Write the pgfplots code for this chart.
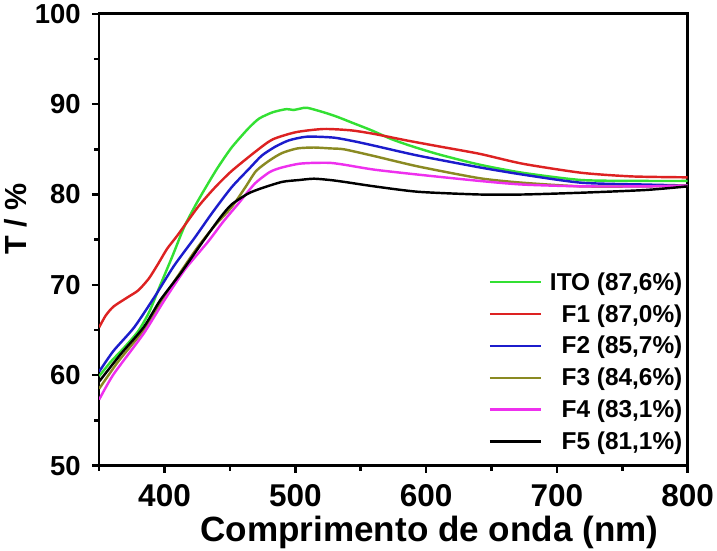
\documentclass[border=0pt]{standalone}
\usepackage{fontspec}
\setmainfont{Liberation Sans}
\usepackage{pgfplots}
\pgfplotsset{compat=1.18}
\definecolor{cITO}{HTML}{33E033}
\definecolor{cFa}{HTML}{DD2222}
\definecolor{cFb}{HTML}{1C1CCC}
\definecolor{cFc}{HTML}{8A8A22}
\definecolor{cFd}{HTML}{EE30EE}
\definecolor{cFe}{HTML}{000000}

\begin{document}
\begin{tikzpicture}
\begin{axis}[
  scale only axis,
  width=579pt, height=444.5pt,
  xmin=350, xmax=800,
  ymin=50, ymax=100,
  xtick={400,500,600,700,800},
  minor xtick={350,450,550,650,750},
  ytick={50,60,70,80,90,100},
  minor ytick={55,65,75,85,95},
  xtick pos=lower, ytick pos=left,
  tick align=outside,
  major tick length=7pt, minor tick length=5pt,
  axis line style={line width=2.6pt},
  major tick style={line width=2.4pt, black},
  minor tick style={line width=2.4pt, black},
  /pgf/number format/assume math mode=true,
  xticklabel style={font=\bfseries\fontsize{31}{31}\selectfont, inner sep=0pt},
  yticklabel style={font=\bfseries\fontsize{27}{27}\selectfont, inner sep=0pt},
  xticklabel shift=11pt, yticklabel shift=11pt,
  every axis x label/.style={at={(axis description cs:0.5613,0)}, anchor=north,
    yshift=-49pt, inner sep=0pt, font=\bfseries\fontsize{34.5}{36}\selectfont},
  every axis y label/.style={at={(axis description cs:-0.1226,0.5467)}, rotate=90,
    anchor=south, inner sep=0pt, font=\bfseries\fontsize{30}{32}\selectfont},
  xlabel={Comprimento de onda (nm)},
  ylabel={T / \%},
  legend style={at={(axis description cs:1,0)}, anchor=south east,
    xshift=-3pt, yshift=12pt, draw=none, fill=none,
    font=\bfseries\fontsize{24}{26}\selectfont,
    row sep=8.5pt, column sep=6pt, inner sep=0pt},
  legend cell align=right,
  legend image code/.code={\draw[#1] (0pt,0pt) -- (50pt,0pt);},
  every axis plot/.append style={line width=2.4pt, smooth, tension=0.4},
]
\addplot[color=cITO] coordinates {
 (350,59.9) (359,61.5) (369.4,63.1) (380,64.9) (388.3,67.0) (395.7,69.6)
 (406.1,73.2) (415,76.4) (424,78.9) (432.4,81.0) (440.8,83.0) (451.3,85.2)
 (464,87.3) (472.3,88.4) (482.7,89.1) (493.2,89.45) (498.5,89.35) (503.7,89.5)
 (509,89.6) (521.6,89.1) (532,88.6) (542.5,88.0) (558.3,87.1) (574,86.1)
 (590,85.3) (610.7,84.4) (641,83.3) (674,82.4) (719,81.6) (768,81.5) (800,81.5)
};
\addplot[color=cFa] coordinates {
 (350,65.3) (355,66.6) (361,67.6) (371.5,68.6) (380,69.4) (388,70.7)
 (395,72.3) (402,74.0) (410,75.5) (426,78.7) (438.7,80.8) (451.3,82.6) (470,84.8)
 (482.7,86.1) (500.6,86.9) (521.6,87.25) (542.5,87.1) (560.4,86.7) (584.5,86.0)
 (610.7,85.3) (641,84.5) (674,83.4) (719,82.4) (757.6,82.0) (800,81.9)
};
\addplot[color=cFb] coordinates {
 (350,60.4) (361,62.7) (376.8,65.3) (392.5,68.7) (407.2,72.1) (423,75.2)
 (436.6,78.0) (451.3,80.8) (465,82.9) (474.3,84.3) (484.8,85.3) (495.3,86.0)
 (509,86.4) (529,86.3) (544.6,85.9) (560.4,85.4) (594,84.3) (641,83.0)
 (674,82.2) (719,81.3) (768,81.1) (800,81.0)
};
\addplot[color=cFc] coordinates {
 (350,58.5) (364.5,61.5) (384,65.0) (398.8,68.5) (414.5,71.9) (426,74.3)
 (438.7,76.6) (451.3,78.6) (461.8,80.8) (470,82.6) (480.6,83.8) (490,84.6)
 (501.6,85.1) (514.2,85.2) (526.8,85.1) (537.3,85.0) (560.4,84.25) (594,83.1)
 (641,81.8) (674,81.3) (719,80.9) (768,80.9) (800,81.0)
};
\addplot[color=cFd] coordinates {
 (350,57.3) (361,60.1) (384,64.6) (399.9,68.3) (415.6,71.7) (433.4,74.8)
 (444.9,77.0) (456.5,79.0) (469,81.2) (480.6,82.5) (490,83.0) (502.7,83.4)
 (514.2,83.5) (526.8,83.5) (537.3,83.3) (560.4,82.75) (594,82.2) (641,81.5)
 (674,81.1) (719,80.9) (768,80.9) (800,81.0)
};
\addplot[color=cFe] coordinates {
 (350,59.3) (366.3,62.3) (384,65.3) (396.7,68.3) (412.4,71.3) (430.3,75.0)
 (442.9,77.5) (451.3,78.9) (463.9,80.1) (474.3,80.7) (490,81.4) (502.7,81.6)
 (514.2,81.75) (526.8,81.6) (537.3,81.4) (560.4,80.9) (594,80.3) (641,80.0)
 (674,80.0) (719,80.2) (768,80.5) (800,80.9)
};
\legend{{ITO (87,6\%)}, {F1 (87,0\%)}, {F2 (85,7\%)}, {F3 (84,6\%)}, {F4 (83,1\%)}, {F5 (81,1\%)}}
\end{axis}
\path (current bounding box.north east) ++(3pt,4pt);
\path (current bounding box.south west) ++(-4pt,-2pt);
\end{tikzpicture}
\end{document}
